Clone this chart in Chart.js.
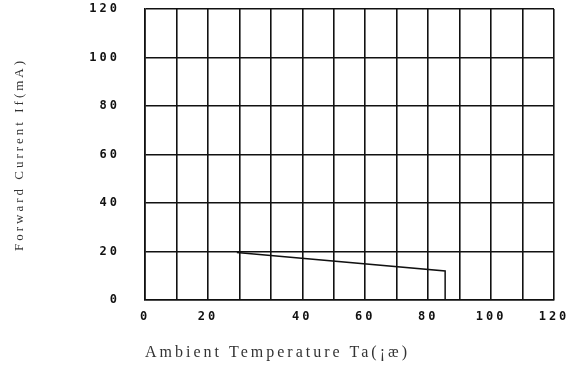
<!DOCTYPE html>
<html>
<head>
<meta charset="utf-8">
<script src="https://cdn.jsdelivr.net/npm/chart.js@4/dist/chart.umd.min.js"></script>
<style>
  html, body { margin: 0; background: #fff; }
</style>
</head>
<body>
<canvas id="chart" width="572" height="368"></canvas>
<script>
// x axis is the scanned grid: 13 equal columns, labels sit on some of the lines
const xGridLines = [0, 1, 2, 3, 4, 5, 6, 7, 8, 9, 10, 11, 12, 13]
const xLabelPos = [0, 2, 5, 7, 9, 11, 13]
const xLabelText = ['0', '20', '40', '60', '80', '100', '120']
const yTicks = [0, 20, 40, 60, 80, 100, 120]

// derating curve (x in grid columns, y in mA)
const curveX = [2.92, 9.54, 9.54]
const curveY = [19.6, 12, 0]

const ink = '#111'
const tickFont = { family: "'DejaVu Sans Mono', monospace", size: 12, weight: 'bold' }
const spacing = {
  id: 'spacing',
  beforeLayout: (chart) => { chart.ctx.letterSpacing = '3px' },
  beforeDraw: (chart) => { chart.ctx.letterSpacing = '3px' }
}

document.addEventListener('DOMContentLoaded', () => {
  const canvas = document.getElementById('chart')
  new Chart(canvas, {
    type: 'scatter',
    data: {
      datasets: [{
        data: curveX.map((x, i) => ({ x, y: curveY[i] })),
        showLine: true,
        borderColor: ink,
        borderWidth: 1.5,
        pointRadius: 0,
        tension: 0
      }]
    },
    options: {
      responsive: false,
      animation: false,
      layout: { autoPadding: false, padding: { left: 12, right: 18, top: 9, bottom: 0 } },
      plugins: { legend: { display: false }, tooltip: { enabled: false } },
      scales: {
        x: {
          type: 'linear',
          min: 0,
          max: 13,
          afterBuildTicks: (scale) => { scale.ticks = xGridLines.map((value) => ({ value })) },
          afterFit: (scale) => {
            scale.height = 68
            scale.paddingLeft = 0
            scale.paddingRight = 0
          },
          ticks: {
            autoSkip: false,
            maxRotation: 0,
            padding: 10,
            color: ink,
            font: tickFont,
            callback: (value) => {
              const i = xLabelPos.indexOf(value)
              return i < 0 ? '' : xLabelText[i]
            }
          },
          grid: { color: ink, lineWidth: 1.6, drawTicks: false },
          border: { color: ink, width: 1.6 },
          title: {
            display: true,
            align: 'start',
            text: 'Ambient Temperature Ta(¡æ)',
            color: '#333',
            font: { family: "'Liberation Serif', serif", size: 16 },
            padding: { top: 0, bottom: 6 }
          }
        },
        y: {
          min: 0,
          max: 120,
          afterBuildTicks: (scale) => { scale.ticks = yTicks.map((value) => ({ value })) },
          afterFit: (scale) => {
            scale.width = 133
            scale.paddingTop = 0
            scale.paddingBottom = 0
          },
          ticks: {
            padding: 25,
            color: ink,
            font: tickFont
          },
          grid: { color: ink, lineWidth: 1.6, drawTicks: false },
          border: { color: ink, width: 1.6 },
          title: {
            display: true,
            text: 'Forward Current If(mA)',
            color: '#333',
            font: { family: "'Liberation Serif', serif", size: 13 },
            padding: { top: 0, bottom: 0 }
          }
        }
      }
    },
    plugins: [spacing]
  })
})
</script>
</body>
</html>
